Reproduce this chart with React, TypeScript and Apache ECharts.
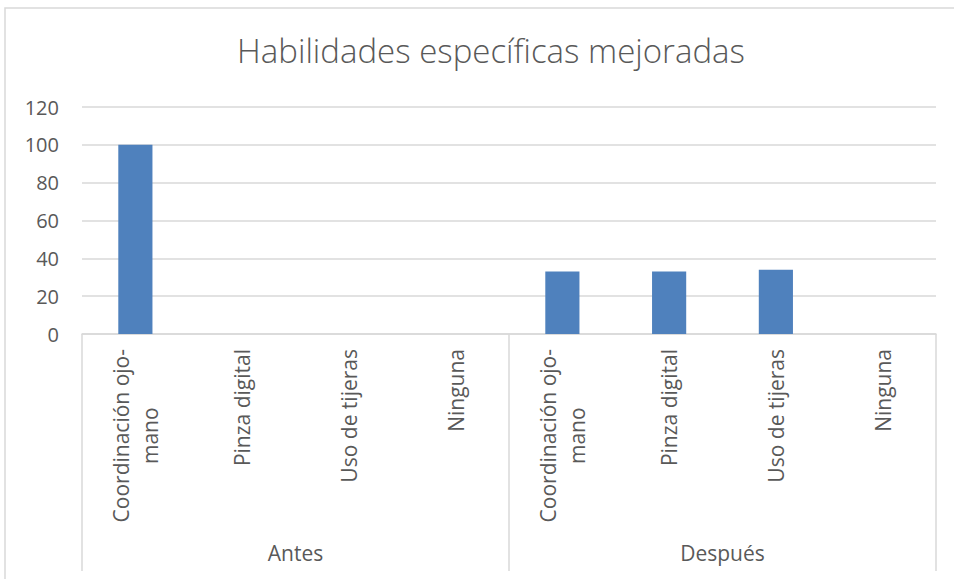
import React, { useEffect, useRef } from "react";
import * as echarts from "echarts";

const titleText = "Habilidades específicas mejoradas";
const groups = ["Antes", "Después"];
const skills = ["Coordinación ojo-mano", "Pinza digital", "Uso de tijeras", "Ninguna"];
const categories = [...skills, ...skills];
const values = [100, 0, 0, 0, 33, 33, 34, 0];
const yTicks = [0, 20, 40, 60, 80, 100, 120];

const FONT = "'Open Sans', 'Noto Sans', sans-serif";
const GREY = "#595959";
const LINE = "#d9d9d9";

export default function App() {
  const ref = useRef<HTMLDivElement>(null);
  useEffect(() => {
    if (!ref.current) return;
    const chart = echarts.init(ref.current, undefined, { renderer: "svg" });
    chart.setOption({
      animation: false,
      backgroundColor: "#ffffff",
      textStyle: { fontFamily: FONT },
      title: {
        text: titleText,
        left: 486,
        top: 29,
        textAlign: "center",
        textStyle: { fontFamily: FONT, fontSize: 33, fontWeight: 300, color: GREY },
      },
      graphic: [
        {
          type: "rect",
          shape: { x: 5, y: 8, width: 970, height: 600 },
          style: { fill: "none", stroke: LINE, lineWidth: 1.5 },
          silent: true,
        },
      ],
      grid: { left: 82, right: 18, top: 107, bottom: 245, containLabel: false },
      xAxis: [
        {
          type: "category",
          data: categories,
          axisLine: { show: true, lineStyle: { color: LINE, width: 1.5 } },
          axisTick: { show: false },
          axisLabel: {
            interval: 0,
            rotate: 90,
            margin: 15,
            color: GREY,
            fontSize: 21,
            fontFamily: FONT,
            formatter: (v: string) =>
              v
                .replace("ojo-", "ojo-\n")
                .split("\n")
                .map((s) => `{c|${s}}`)
                .join("\n"),
            rich: { c: { align: "center", color: GREY, fontSize: 21, fontFamily: FONT, lineHeight: 29 } },
          },
        },
        {
          type: "category",
          data: groups,
          position: "bottom",
          axisLine: { show: false },
          axisTick: { show: true, length: 237, lineStyle: { color: LINE, width: 1.5 } },
          axisLabel: { margin: 208, color: GREY, fontSize: 21, fontFamily: FONT },
          splitLine: { show: false },
        },
      ],
      yAxis: {
        type: "value",
        min: yTicks[0],
        max: yTicks[yTicks.length - 1],
        interval: 20,
        axisLine: { show: false },
        axisTick: { show: false },
        axisLabel: { color: GREY, fontSize: 20, margin: 23, fontFamily: FONT },
        splitLine: { lineStyle: { color: LINE, width: 1.5 } },
      },
      series: [
        {
          type: "bar",
          xAxisIndex: 0,
          data: values,
          barWidth: "32%",
          itemStyle: { color: "#4f81bd" },
        },
      ],
    });
    return () => chart.dispose();
  }, []);
  return (
    <div
      ref={ref}
      style={{ position: "fixed", left: 0, top: 0, width: 954, height: 579 }}
    />
  );
}
